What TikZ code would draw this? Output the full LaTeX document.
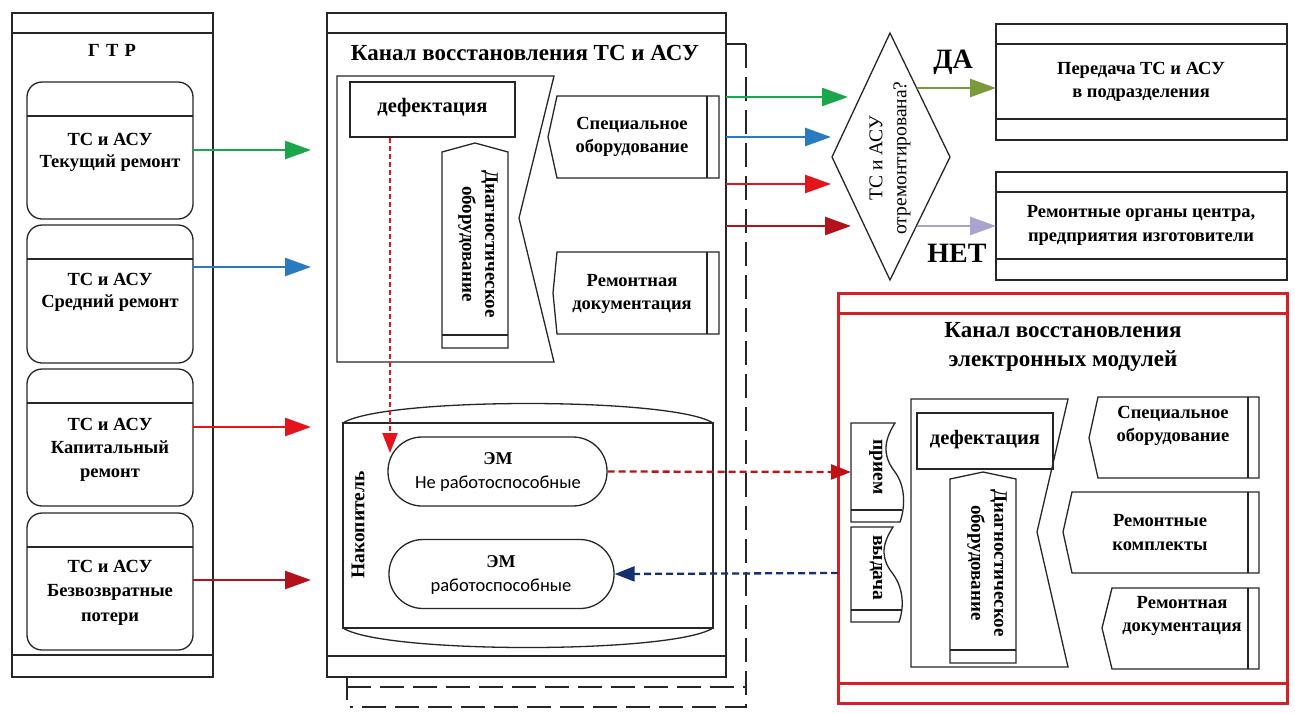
\documentclass[tikz,border=0pt]{standalone}
\usepackage{fontspec}
\setmainfont{Liberation Serif}
\newfontfamily\calfont{Carlito}
\usetikzlibrary{arrows.meta}

\definecolor{cgreen}{HTML}{1AA64A}
\definecolor{cblue}{HTML}{2A7AC0}
\definecolor{cred}{HTML}{E3141B}
\definecolor{cdred}{HTML}{B3121B}
\definecolor{colive}{HTML}{7B9A3C}
\definecolor{clav}{HTML}{ABA3CF}
\definecolor{cnavy}{HTML}{14306E}
\definecolor{cframe}{HTML}{D42027}
\definecolor{cline}{HTML}{262626}

\begin{document}
\begin{tikzpicture}[x=1pt,y=-1pt,
  ln/.style={draw=cline, line width=1.3pt},
  bt/.style={font=\bfseries\fontsize{18.5}{22.5}\selectfont, align=center, inner sep=0pt},
  bt2/.style={font=\bfseries\fontsize{18.5}{23}\selectfont, align=center, inner sep=0pt},
  rt/.style={font=\fontsize{19.5}{24}\selectfont, align=center, inner sep=0pt},
  ttl/.style={font=\bfseries\fontsize{23}{29}\selectfont, align=center, inner sep=0pt},
  big/.style={font=\bfseries\fontsize{28}{30}\selectfont, inner sep=0pt},
  ct/.style={font=\calfont\fontsize{18.5}{22}\selectfont, inner sep=0pt},
  carr/.style={line width=2.6pt, -{Triangle[length=26pt,width=18pt]}},
  darr/.style={line width=2.3pt, dash pattern=on 7pt off 4pt, -{Triangle[length=20pt,width=15pt]}},
  longdash/.style={dash pattern=on 24pt off 9pt},
  rbox/.style={ln, rounded corners=15pt},
  stad/.style={ln, rounded corners=34pt, minimum height=69pt},
  plain/.style={ln, inner sep=0pt}
]
\useasboundingbox (0,0) rectangle (1295,713);

% ---------- left lane: ГТР ----------
\draw[ln] (12,13) rectangle (213,677);
\draw[ln] (12,33) -- (213,33);
\draw[ln] (12,655) -- (213,655);
\node[bt] (gtr) at (112,50) {Г\,\,Т\,\,Р};

\draw[rbox] (27,82) rectangle (193,219);  \draw[ln] (27,116) -- (193,116);
\draw[rbox] (27,225) rectangle (193,363); \draw[ln] (27,259) -- (193,259);
\draw[rbox] (27,369) rectangle (193,506); \draw[ln] (27,403) -- (193,403);
\draw[rbox] (27,513) rectangle (193,650); \draw[ln] (27,547) -- (193,547);

\node[bt] (tr1) at (110,152.5) {ТС и АСУ\\Текущий ремонт};
\node[bt] (tr2) at (110,292.5) {ТС и АСУ\\Средний ремонт};
\node[bt, font=\bfseries\fontsize{18.5}{23.5}\selectfont] (tr3) at (110,449.5) {ТС и АСУ\\Капитальный\\ремонт};
\node[bt, font=\bfseries\fontsize{18.5}{24.5}\selectfont] (tr4) at (110,592.5) {ТС и АСУ\\Безвозвратные\\потери};

\coordinate (g1) at (193,150); \coordinate (g1e) at (311,150);
\coordinate (g2) at (193,267); \coordinate (g2e) at (311,267);
\coordinate (g3) at (193,427); \coordinate (g3e) at (311,427);
\coordinate (g4) at (193,580); \coordinate (g4e) at (311,580);
\draw[carr, cgreen] (g1) -- (g1e);
\draw[carr, cblue] (g2) -- (g2e);
\draw[carr, cred] (g3) -- (g3e);
\draw[carr, cdred] (g4) -- (g4e);

% ---------- middle lane: канал восстановления ТС и АСУ ----------
\draw[ln] (726,44) -- (746,44);
\draw[ln, longdash] (746,44) -- (746,707) -- (350,707);
\draw[ln, longdash] (347,687) -- (746,687);
\draw[ln] (347,677) -- (347,700);

\draw[ln, fill=white] (327,13) rectangle (726,677);
\draw[ln] (327,33) -- (726,33);
\draw[ln] (327,656) -- (726,656);
\node[ttl] (ch1) at (525,53) {Канал восстановления ТС и АСУ};

\draw[ln] (337,76) -- (554,76) -- (519,218) -- (554,362) -- (337,362) -- cycle;
\node[plain, draw, minimum width=165pt, minimum height=55pt] (def1) at (432.5,109.5) {};
\node[bt, font=\bfseries\fontsize{20.5}{24}\selectfont] (def1t) at (432.5,108) {дефектация};

\draw[ln] (442,348) -- (442,152) -- (475,143) -- (508,152) -- (508,348) -- cycle;
\draw[ln] (442,335) -- (508,335);
\node[bt, rotate=-90, font=\bfseries\fontsize{19}{23}\selectfont] (diag1) at (478,244) {Диагностическое\\оборудование};

\draw[ln] (548,137) -- (557,96) -- (719,96) -- (719,178) -- (557,178) -- cycle;
\draw[ln] (707,96) -- (707,178);
\node[bt2] (spec1) at (632,137) {Специальное\\оборудование};

\draw[ln] (553,293) -- (557,252) -- (719,252) -- (719,334) -- (557,334) -- cycle;
\draw[ln] (707,252) -- (707,334);
\node[bt2] (doc1) at (632,294) {Ремонтная\\документация};

% накопитель
\draw[ln] (343,423) rectangle (713,628);
\draw[ln] (343,423) .. controls (383,397) and (673,397) .. (713,423);
\draw[ln] (343,628) .. controls (383,654) and (673,654) .. (713,628);
\node[bt, rotate=90, font=\bfseries\fontsize{19.5}{23}\selectfont] (nak) at (358,525) {Накопитель};

\node[stad, draw, minimum width=219pt] (em1) at (497.5,471.5) {};
\node[bt, font=\bfseries\fontsize{18}{20}\selectfont] (em1a) at (498,459) {ЭМ};
\node[ct] (em1b) at (498,484) {Не работоспособные};
\node[stad, draw, minimum width=225pt] (em2) at (501.5,574) {};
\node[bt, font=\bfseries\fontsize{18}{20}\selectfont] (em2a) at (501,562) {ЭМ};
\node[ct] (em2b) at (501,587) {работоспособные};

\coordinate (em1in) at (390,453);
\draw[cred, line width=2.2pt, dash pattern=on 5pt off 3pt, -{Triangle[length=20pt,width=15pt]}]
  ([xshift=-42.5pt]def1.south) -- (em1in);

% ---------- decision ----------
\draw[ln] (890,33) -- (950,157) -- (890,280) -- (832,157) -- cycle;
\node[rt, rotate=90] (dec) at (890,158) {ТС и АСУ\\отремонтирована?};

\coordinate (m1) at (726,97);  \coordinate (m1e) at (848,97);
\coordinate (m2) at (726,137); \coordinate (m2e) at (831,137);
\coordinate (m3) at (726,184); \coordinate (m3e) at (831,184);
\coordinate (m4) at (726,226); \coordinate (m4e) at (851,226);
\draw[carr, cgreen] (m1) -- (m1e);
\draw[carr, cblue] (m2) -- (m2e);
\draw[carr, cred] (m3) -- (m3e);
\draw[carr, cdred] (m4) -- (m4e);

\node[big] (yes) at (953,62) {ДА};
\node[big] (no) at (957,253) {НЕТ};

\draw[ln] (996,24) rectangle (1287,140);
\draw[ln] (996,44) -- (1287,44);
\draw[ln] (996,119) -- (1287,119);
\node[bt2] (pass) at (1141,81.5) {Передача ТС и АСУ\\в подразделения};

\draw[ln] (996,172) rectangle (1287,280);
\draw[ln] (996,192) -- (1287,192);
\draw[ln] (996,259) -- (1287,259);
\node[bt, font=\bfseries\fontsize{18.5}{24}\selectfont] (plant) at (1141,225) {Ремонтные органы центра,\\предприятия изготовители};

\coordinate (y1) at (917,88);  \coordinate (y1e) at (996,88);
\coordinate (n1) at (917,226); \coordinate (n1e) at (996,226);
\draw[carr, colive] (y1) -- (y1e);
\draw[carr, clav] (n1) -- (n1e);

% ---------- канал восстановления электронных модулей ----------
\draw[cframe, line width=3pt] (838,293) rectangle (1287,703);
\draw[cframe, line width=3pt] (838,313) -- (1287,313);
\draw[cframe, line width=3pt] (838,683) -- (1287,683);
\node[ttl] (ch2) at (1063,347) {Канал восстановления\\электронных модулей};

\draw[ln] (911,399) -- (1068,399) -- (1037,532) -- (1068,667) -- (911,667) -- cycle;
\node[plain, draw, minimum width=136pt, minimum height=56pt] (def2) at (985,441) {};
\node[bt, font=\bfseries\fontsize{20.5}{24}\selectfont] (def2t) at (985,440) {дефектация};

\draw[ln] (950,663) -- (950,479) -- (983,472) -- (1016,479) -- (1016,663) -- cycle;
\draw[ln] (950,650) -- (1016,650);
\node[bt, rotate=-90, font=\bfseries\fontsize{19}{23}\selectfont] (diag2) at (987,563) {Диагностическое\\оборудование};

\draw[ln] (1089,438) -- (1098,397) -- (1259,397) -- (1259,478) -- (1098,478) -- cycle;
\draw[ln] (1248,397) -- (1248,478);
\node[bt2] (spec2) at (1173,426) {Специальное\\оборудование};

\draw[ln] (1063,532) -- (1072,492) -- (1259,492) -- (1259,573) -- (1072,573) -- cycle;
\draw[ln] (1248,492) -- (1248,573);
\node[bt, font=\bfseries\fontsize{18.5}{24}\selectfont] (kit) at (1160,533) {Ремонтные\\комплекты};

\draw[ln] (1102,628) -- (1112,588) -- (1259,588) -- (1259,669) -- (1112,669) -- cycle;
\draw[ln] (1248,588) -- (1248,669);
\node[bt2] (doc2) at (1182,616) {Ремонтная\\документация};

% приём / выдача
\draw[ln] (851,423) -- (895,423) .. controls (882,443) and (884,458) .. (895,472)
  .. controls (906,487) and (905,508) .. (900,522) -- (851,522) -- cycle;
\draw[ln] (851,510) -- (902,510);
\node[bt, rotate=-90, font=\bfseries\fontsize{19.5}{23}\selectfont] (priem) at (876,467) {прием};

\draw[ln] (851,527) -- (893,527) .. controls (880,547) and (882,560) .. (893,574)
  .. controls (904,589) and (904,608) .. (899,622) -- (851,622) -- cycle;
\draw[ln] (851,610) -- (901,610);
\node[bt, rotate=-90, font=\bfseries\fontsize{19.5}{23}\selectfont] (vyd) at (876,568) {выдача};

\coordinate (priemIn) at (851,472);
\coordinate (vydOut) at (838,573);
\draw[darr, cred!85!black] (em1.east) -- (priemIn);
\draw[darr, cnavy] (vydOut) -- (em2.east);
\end{tikzpicture}
\end{document}
